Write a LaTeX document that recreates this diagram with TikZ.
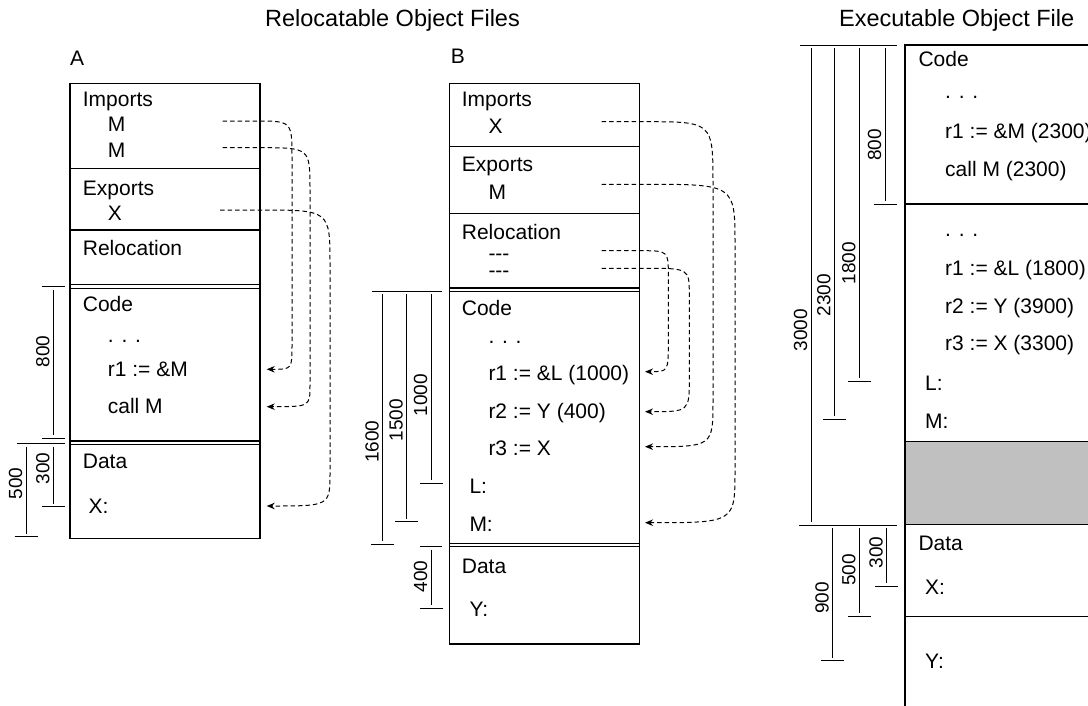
\documentclass[tikz,border=0pt]{standalone}
\usepackage{fontspec}
\setmainfont{Liberation Sans}
\usetikzlibrary{arrows.meta}
\definecolor{Shade}{HTML}{C0C0C0}

\begin{document}
\begin{tikzpicture}[
  x=1pt,
  y=-1pt,
  frame/.style={line width=1.1pt},
  dimline/.style={line width=0.8pt},
  txt/.style={anchor=base west,inner sep=0pt,font=\fontsize{21}{25}\selectfont},
  title/.style={anchor=base,inner sep=0pt,font=\fontsize{23.5}{28}\selectfont},
  dimtxt/.style={rotate=90,inner sep=0pt,font=\fontsize{19}{22}\selectfont},
  link/.style={dash pattern=on 4.5pt off 3pt,line width=1pt,-{Stealth[length=8pt,width=6.5pt]}}
]
  \useasboundingbox (0,0) rectangle (1088,705);

  % Titles
  \node[title] (relTitle) at (392.5,26) {Relocatable Object Files};
  \node[title] (exeTitle) at (956.7,26) {Executable Object File};

  % Module A
  \node[txt] (aName) at (70,65) {A};
  \draw[frame] (70,83.3) rectangle (260,538.3);
  \draw[frame] (70,168.3) -- (260,168.3) (70,230) -- (260,230);
  \draw[frame] (70,284.5) -- (260,284.5) (70,288.3) -- (260,288.3);
  \draw[frame] (70,441) -- (260,441) (70,444.5) -- (260,444.5);
  \node[txt] (aImports) at (82.7,106.7) {Imports};
  \node[txt] (aImpM1) at (107.7,131.7) {M};
  \node[txt] (aImpM2) at (107.7,157.3) {M};
  \node[txt] (aExports) at (82.7,195) {Exports};
  \node[txt] (aExpX) at (107.7,220) {X};
  \node[txt] (aReloc) at (82.7,255) {Relocation};
  \node[txt] (aCode) at (82.7,311.7) {Code};
  \node[txt] (aDots) at (107.7,342) {. . .};
  \node[txt] (aR1) at (107.7,376.7) {r1 := \&M};
  \node[txt] (aCall) at (107.7,413.3) {call M};
  \node[txt] (aData) at (82.7,468.3) {Data};
  \node[txt] (aX) at (88.3,513.3) {X:};

  % Module B
  \node[txt] (bName) at (450.7,63.3) {B};
  \draw[frame] (449.3,83.3) rectangle (639.3,644);
  \draw[frame] (449.3,146.7) -- (639.3,146.7) (449.3,213.3) -- (639.3,213.3);
  \draw[frame] (449.3,288) -- (639.3,288) (449.3,291.5) -- (639.3,291.5);
  \draw[frame] (449.3,543.3) -- (639.3,543.3) (449.3,546.8) -- (639.3,546.8);
  \node[txt] (bImports) at (461.7,106.7) {Imports};
  \node[txt] (bImpX) at (488.3,133.3) {X};
  \node[txt] (bExports) at (461.7,171) {Exports};
  \node[txt] (bExpM) at (488.3,199) {M};
  \node[txt] (bReloc) at (461.7,239) {Relocation};
  \node[txt] (bRel1) at (488.3,260.5) {-{}-{}-};
  \node[txt] (bRel2) at (488.3,277.2) {-{}-{}-};
  \node[txt] (bCode) at (461.7,315) {Code};
  \node[txt] (bDots) at (488.3,343) {. . .};
  \node[txt] (bR1) at (488.3,380) {r1 := \&L (1000)};
  \node[txt] (bR2) at (488.3,418.3) {r2 := Y (400)};
  \node[txt] (bR3) at (488.3,455) {r3 := X};
  \node[txt] (bL) at (469.3,493.3) {L:};
  \node[txt] (bM) at (469.3,531.7) {M:};
  \node[txt] (bData) at (461.7,573.3) {Data};
  \node[txt] (bY) at (469.3,616.7) {Y:};

  % Executable
  \fill[Shade] (905,441.7) rectangle (1095,524.3);
  \draw[frame] (905,710) -- (905,45) -- (1095,45);
  \foreach \ey in {204,441.7,524.3,616.7} {\draw[frame] (905,\ey) -- (1095,\ey);}
  \node[txt] (eCode) at (918.3,66.7) {Code};
  \node[txt] (eDots1) at (945,98) {. . .};
  \node[txt] (eR1M) at (945,138.3) {r1 := \&M (2300)};
  \node[txt] (eCall) at (945,176.7) {call M (2300)};
  \node[txt] (eDots2) at (945,236.5) {. . .};
  \node[txt] (eR1L) at (945,275) {r1 := \&L (1800)};
  \node[txt] (eR2) at (945,313.3) {r2 := Y (3900)};
  \node[txt] (eR3) at (945,350) {r3 := X (3300)};
  \node[txt] (eL) at (925,390) {L:};
  \node[txt] (eM) at (925,428.3) {M:};
  \node[txt] (eData) at (918.3,550.7) {Data};
  \node[txt] (eX) at (925,594) {X:};
  \node[txt] (eY) at (925,668.3) {Y:};

  % Dimensions
  \draw[dimline] (41.7,286.7) -- (65,286.7) (16.7,443.3) -- (65,443.3);
  \foreach \dx/\dtop/\dbot/\dly/\dval in {53.3/286.7/438.3/351.7/800,53.3/443.3/506.7/468.3/300,26/443.3/536.7/483.3/500} {
    \draw[dimline] (\dx,\dtop+3.5) -- (\dx,\dbot-3) (\dx-11.5,\dbot) -- (\dx+11.5,\dbot);
    \node[dimtxt] (dA\dval) at (\dx-10.5,\dly) {\dval};
  }
  \draw[dimline] (371.7,291) -- (441.7,291) (420,546.7) -- (441.7,546.7);
  \foreach \dx/\dtop/\dbot/\dly/\dval in {382.7/291/544/441.7/1600,406.7/291/521.7/420/1500,431/291/483.3/395/1000,431/546.7/608.3/576.7/400} {
    \draw[dimline] (\dx,\dtop+3) -- (\dx,\dbot-3) (\dx-11.5,\dbot) -- (\dx+11.5,\dbot);
    \node[dimtxt] (dB\dval) at (\dx-10.5,\dly) {\dval};
  }
  \draw[dimline] (800,45) -- (896.7,45) (799,525) -- (897,525);
  \foreach \dx/\dtop/\dbot/\dly/\dval in {811/45/525/330/3000,834.3/45/419/295/2300,859.3/45/381/263/1800,885/45/204.3/145/800,832.7/525/660.7/598/900,859.3/525/616/570/500,886.7/525/586/552.7/300} {
    \draw[dimline] (\dx,\dtop+3) -- (\dx,\dbot-3) (\dx-11.5,\dbot) -- (\dx+11.5,\dbot);
    \node[dimtxt] (dE\dval) at (\dx-10.5,\dly) {\dval};
  }

  % Links in A
  \coordinate (aFromM1) at (222.7,121);
  \coordinate (aFromM2) at (222.7,147.7);
  \coordinate (aFromX) at (220,210);
  \coordinate (aToR1) at (266.7,369.3);
  \coordinate (aToCall) at (266.7,406.7);
  \coordinate (aToX) at (266.7,506);
  \draw[link] (aFromM1) -- (255,121) .. controls (292,121) .. (292,158) -- (292,345) .. controls (292,369.3) .. (aToR1);
  \draw[link] (aFromM2) -- (260,147.7) .. controls (310,147.7) .. (310,190) -- (310,385) .. controls (310,406.7) .. (aToCall);
  \draw[link] (aFromX) -- (260,210) .. controls (330,210) .. (330,265) -- (330,472) .. controls (330,506) .. (aToX);

  % Links in B
  \coordinate (bFromX) at (601.7,121.7);
  \coordinate (bFromM) at (601.7,184.3);
  \coordinate (bFromRel1) at (601.7,250.7);
  \coordinate (bFromRel2) at (601.7,268.3);
  \coordinate (bToR1) at (645,371.7);
  \coordinate (bToR2) at (645,411.7);
  \coordinate (bToR3) at (645,446.7);
  \coordinate (bToM) at (645,522.7);
  \draw[link] (bFromX) -- (645,121.7) .. controls (713,121.7) .. (713,185) -- (713,400) .. controls (713,446.7) .. (bToR3);
  \draw[link] (bFromM) -- (645,184.3) .. controls (735,184.3) .. (735,245) -- (735,470) .. controls (735,522.7) .. (bToM);
  \draw[link] (bFromRel1) -- (640,250.7) .. controls (668.3,250.7) .. (668.3,275) -- (668.3,342) .. controls (668.3,371.7) .. (bToR1);
  \draw[link] (bFromRel2) -- (645,268.3) .. controls (689.3,268.3) .. (689.3,295) -- (689.3,378) .. controls (689.3,411.7) .. (bToR2);
\end{tikzpicture}
\end{document}
